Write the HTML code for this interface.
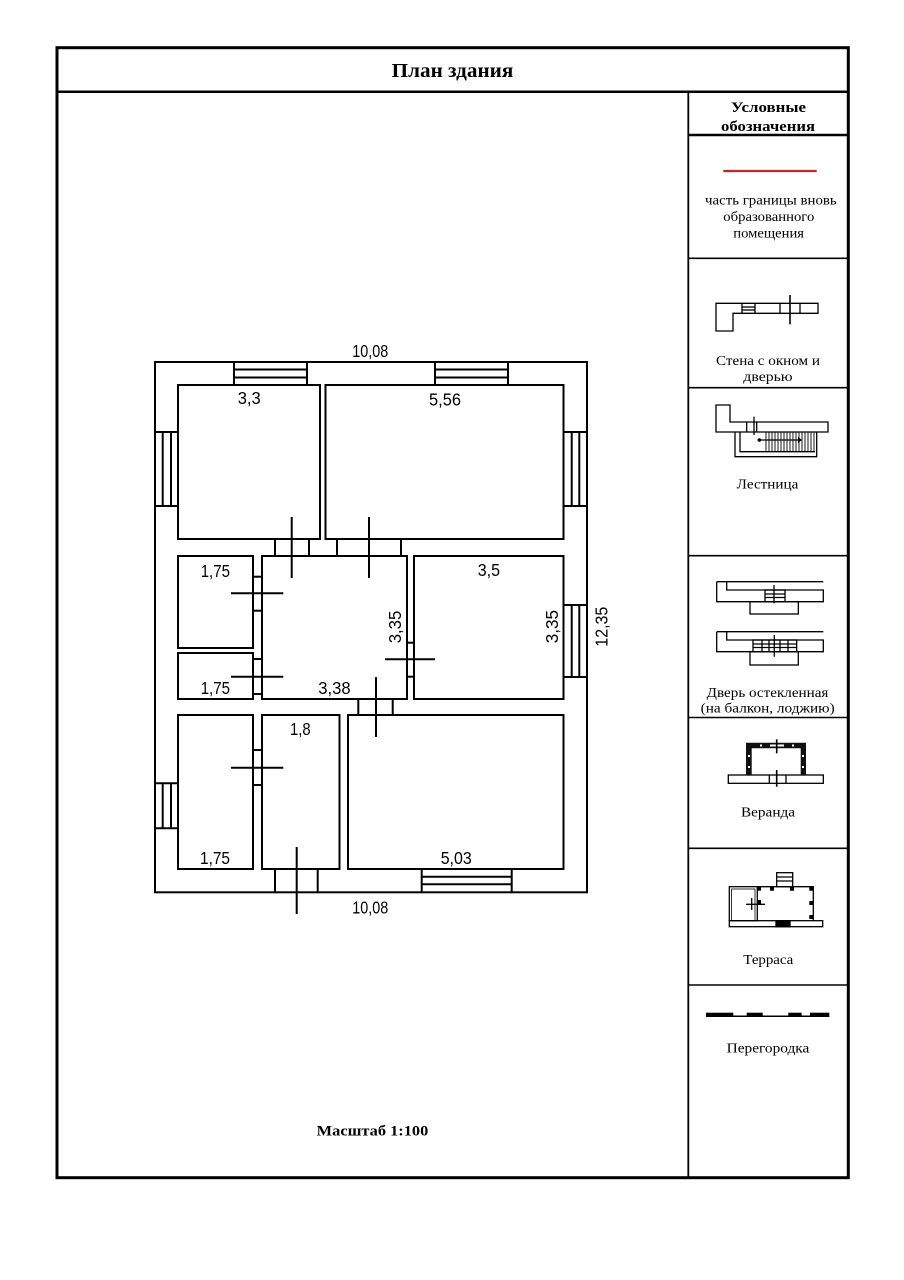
<!DOCTYPE html>
<html><head><meta charset="utf-8"><style>html,body{margin:0;padding:0;background:#fff}svg{display:block}</style></head><body>
<svg width="904" height="1280" viewBox="0 0 904 1280" xmlns="http://www.w3.org/2000/svg">
<rect x="0" y="0" width="904" height="1280" fill="#fff"/>
<!-- frame -->
<rect x="57" y="47.7" width="791.3" height="1130" fill="none" stroke="#000" stroke-width="3"/>
<line x1="57" y1="91.7" x2="848.3" y2="91.7" stroke="#000" stroke-width="2.5"/>
<line x1="688.3" y1="91.7" x2="688.3" y2="1177.7" stroke="#000" stroke-width="1.8"/>
<g stroke="#000" stroke-width="1.6">
<line x1="688.3" y1="135" x2="848.3" y2="135" stroke-width="2.4"/>
<line x1="688.3" y1="258.3" x2="848.3" y2="258.3"/>
<line x1="688.3" y1="387.7" x2="848.3" y2="387.7"/>
<line x1="688.3" y1="555.7" x2="848.3" y2="555.7"/>
<line x1="688.3" y1="717.5" x2="848.3" y2="717.5"/>
<line x1="688.3" y1="848.3" x2="848.3" y2="848.3"/>
<line x1="688.3" y1="985" x2="848.3" y2="985"/>
</g>
<g font-family="'Liberation Serif','Noto Serif CJK SC',serif" fill="#000">
<text x="391.7" y="77" font-size="20" font-weight="bold" textLength="121.6" lengthAdjust="spacingAndGlyphs">План здания</text>
<text x="316.7" y="1135.5" font-size="15" font-weight="bold" textLength="111.6" lengthAdjust="spacingAndGlyphs">Масштаб 1:100</text>
<text x="731" y="112" font-size="15" font-weight="bold" textLength="75" lengthAdjust="spacingAndGlyphs">Условные</text>
<text x="721" y="131" font-size="15" font-weight="bold" textLength="94" lengthAdjust="spacingAndGlyphs">обозначения</text>
<g font-size="13.5">
<text x="705" y="204.5" textLength="131.7" lengthAdjust="spacingAndGlyphs">часть границы вновь</text>
<text x="723.3" y="221" textLength="91" lengthAdjust="spacingAndGlyphs">образованного</text>
<text x="733.3" y="237.5" textLength="70.7" lengthAdjust="spacingAndGlyphs">помещения</text>
<text x="716" y="365" textLength="104" lengthAdjust="spacingAndGlyphs">Стена с окном и</text>
<text x="743.3" y="381" textLength="49.3" lengthAdjust="spacingAndGlyphs">дверью</text>
<text x="736.7" y="488.3" textLength="61.6" lengthAdjust="spacingAndGlyphs">Лестница</text>
<text x="706.7" y="697" textLength="121.7" lengthAdjust="spacingAndGlyphs">Дверь остекленная</text>
<text x="700.7" y="712.7" textLength="134" lengthAdjust="spacingAndGlyphs">(на балкон, лоджию)</text>
<text x="741" y="816.7" textLength="54" lengthAdjust="spacingAndGlyphs">Веранда</text>
<text x="743.3" y="964" textLength="50" lengthAdjust="spacingAndGlyphs">Терраса</text>
<text x="726.7" y="1052.7" textLength="82.6" lengthAdjust="spacingAndGlyphs">Перегородка</text>
</g>
</g>
<!-- red line -->
<line x1="723.3" y1="171" x2="816.7" y2="171" stroke="#d02020" stroke-width="2.2"/>

<!-- legend: wall with window and door -->
<g fill="none" stroke="#000" stroke-width="1.3">
<polygon points="716,303.3 818,303.3 818,313.3 733,313.3 733,331 716,331"/>
<line x1="742" y1="303.3" x2="742" y2="313.3"/>
<line x1="755" y1="303.3" x2="755" y2="313.3"/>
<line x1="742" y1="307" x2="755" y2="307"/>
<line x1="742" y1="310" x2="755" y2="310"/>
<line x1="780" y1="303.3" x2="780" y2="313.3"/>
<line x1="800" y1="303.3" x2="800" y2="313.3"/>
<line x1="790" y1="295" x2="790" y2="324.3" stroke-width="1.6"/>
</g>
<!-- legend: stairs -->
<g fill="none" stroke="#000" stroke-width="1.3">
<polygon points="716,405 730,405 730,422 828,422 828,432 716,432"/>
<line x1="746.7" y1="422" x2="746.7" y2="432"/>
<line x1="756.7" y1="422" x2="756.7" y2="432"/>
<line x1="754" y1="416.7" x2="754" y2="435"/>
<polyline points="735,432 735,456.7 816.7,456.7 816.7,432"/>
<polyline points="740,432 740,451.7 815,451.7"/>
</g>
<g stroke="#000" stroke-width="0.9">
<line x1="766" y1="432" x2="766" y2="451.7"/><line x1="769" y1="432" x2="769" y2="451.7"/><line x1="772" y1="432" x2="772" y2="451.7"/><line x1="775" y1="432" x2="775" y2="451.7"/><line x1="778" y1="432" x2="778" y2="451.7"/><line x1="781" y1="432" x2="781" y2="451.7"/><line x1="784" y1="432" x2="784" y2="451.7"/><line x1="787" y1="432" x2="787" y2="451.7"/><line x1="790" y1="432" x2="790" y2="451.7"/><line x1="793" y1="432" x2="793" y2="451.7"/><line x1="796" y1="432" x2="796" y2="451.7"/><line x1="799" y1="432" x2="799" y2="451.7"/><line x1="802" y1="432" x2="802" y2="451.7"/><line x1="805" y1="432" x2="805" y2="451.7"/><line x1="808" y1="432" x2="808" y2="451.7"/><line x1="811" y1="432" x2="811" y2="451.7"/><line x1="814" y1="432" x2="814" y2="451.7"/>
<line x1="759.3" y1="440" x2="798" y2="440" stroke-width="1.3"/>
</g>
<circle cx="759.3" cy="440" r="1.8" fill="#000"/>
<polygon points="798,437 802,440 798,443" fill="#000"/>
<!-- legend: glazed doors -->
<g fill="none" stroke="#000" stroke-width="1.3">
<line x1="716.7" y1="581.7" x2="823.3" y2="581.7"/>
<polyline points="716.7,581.7 716.7,601.7 823.3,601.7 823.3,590 726.7,590 726.7,581.7"/>
<rect x="750" y="601.7" width="48.3" height="12.3"/>
<rect x="765" y="590" width="20" height="11.7"/>
<line x1="765" y1="594" x2="785" y2="594"/><line x1="765" y1="597.5" x2="785" y2="597.5"/>
<line x1="774" y1="585" x2="774" y2="603.3"/>
<line x1="716.7" y1="631.7" x2="823.3" y2="631.7"/>
<polyline points="716.7,631.7 716.7,651.7 823.3,651.7 823.3,640 726.7,640 726.7,631.7"/>
<rect x="750" y="651.7" width="48.3" height="13.3"/>
<rect x="753" y="640" width="43.7" height="11.7"/>
<line x1="753" y1="644" x2="796.7" y2="644"/><line x1="753" y1="647.5" x2="796.7" y2="647.5"/>
<line x1="762" y1="640" x2="762" y2="651.7"/><line x1="769" y1="640" x2="769" y2="651.7"/><line x1="780" y1="640" x2="780" y2="651.7"/><line x1="788" y1="640" x2="788" y2="651.7"/>
<line x1="774.3" y1="635" x2="774.3" y2="656.7"/>
</g>
<!-- legend: veranda -->
<g fill="none" stroke="#000" stroke-width="1.3">
<rect x="728.3" y="775" width="95" height="8.3"/>
<line x1="769.3" y1="775" x2="769.3" y2="783.3"/>
<line x1="786" y1="775" x2="786" y2="783.3"/>
<line x1="776.7" y1="770" x2="776.7" y2="786.7" stroke-width="1.6"/>
</g>
<path d="M746,775 V742.7 H806 V775 H800.7 V748.3 H751.7 V775 Z" fill="#111"/>
<g fill="#fff"><rect x="748" y="755" width="2" height="2"/><rect x="748" y="766" width="2" height="2"/><rect x="802" y="755" width="2" height="2"/><rect x="802" y="766" width="2" height="2"/><rect x="760" y="744.5" width="2" height="2"/><rect x="792" y="744.5" width="2" height="2"/><rect x="770" y="744.5" width="14" height="2"/></g>
<line x1="776.7" y1="739.3" x2="776.7" y2="753.3" stroke="#000" stroke-width="1.6"/>
<!-- legend: terrace -->
<g fill="none" stroke="#000" stroke-width="1.3">
<rect x="776.7" y="872.7" width="16" height="14"/>
<line x1="776.7" y1="877" x2="792.7" y2="877"/><line x1="776.7" y1="881" x2="792.7" y2="881"/>
<rect x="729.3" y="886.7" width="28" height="34"/>
<rect x="731.5" y="889" width="23.5" height="31.7" stroke-width="0.8"/>
<polyline points="757.3,886.7 813.3,886.7 813.3,920.7"/>
<rect x="729.3" y="920.7" width="93.4" height="6"/>
<rect x="776" y="920.7" width="14" height="6" fill="#000"/>
<line x1="746" y1="904.3" x2="765" y2="904.3"/>
<line x1="751.7" y1="898" x2="751.7" y2="910"/>
</g>
<g fill="#000"><rect x="757" y="886.7" width="4" height="4"/><rect x="770" y="886.7" width="4" height="4"/><rect x="790" y="886.7" width="4" height="4"/><rect x="809.3" y="886.7" width="4" height="4"/><rect x="809.3" y="901" width="4" height="4"/><rect x="809.3" y="915" width="4" height="4"/><rect x="757" y="900" width="4" height="4"/></g>
<!-- legend: partition -->
<line x1="706" y1="1016.3" x2="829.3" y2="1016.3" stroke="#000" stroke-width="1.5"/>
<g fill="#000"><rect x="706" y="1012.7" width="27.3" height="4"/><rect x="746.7" y="1012.7" width="16" height="4"/><rect x="788.3" y="1012.7" width="13.3" height="4"/><rect x="810" y="1012.7" width="19.3" height="4"/></g>

<!-- floor plan -->
<g fill="none" stroke="#000" stroke-width="2">
<rect x="155" y="362" width="432" height="530.3"/>
<rect x="178" y="385" width="142" height="154"/>
<rect x="325.5" y="385" width="238" height="154"/>
<rect x="178" y="556" width="75" height="92"/>
<rect x="178" y="653" width="75" height="46"/>
<rect x="262" y="556" width="145" height="143"/>
<rect x="414" y="556" width="149.5" height="143"/>
<rect x="178" y="715" width="75" height="154"/>
<rect x="262" y="715" width="77.5" height="154"/>
<rect x="348" y="715" width="215.5" height="154"/>
<!-- windows -->
<line x1="234" y1="362" x2="234" y2="385"/><line x1="307" y1="362" x2="307" y2="385"/>
<line x1="234" y1="369.5" x2="307" y2="369.5"/><line x1="234" y1="377.5" x2="307" y2="377.5"/>
<line x1="435" y1="362" x2="435" y2="385"/><line x1="508" y1="362" x2="508" y2="385"/>
<line x1="435" y1="369.5" x2="508" y2="369.5"/><line x1="435" y1="377.5" x2="508" y2="377.5"/>
<line x1="155" y1="432" x2="178" y2="432"/><line x1="155" y1="506" x2="178" y2="506"/>
<line x1="162.7" y1="432" x2="162.7" y2="506"/><line x1="171" y1="432" x2="171" y2="506"/>
<line x1="563.5" y1="432" x2="587" y2="432"/><line x1="563.5" y1="506" x2="587" y2="506"/>
<line x1="571.7" y1="432" x2="571.7" y2="506"/><line x1="579.3" y1="432" x2="579.3" y2="506"/>
<line x1="563.5" y1="605" x2="587" y2="605"/><line x1="563.5" y1="677" x2="587" y2="677"/>
<line x1="571.7" y1="605" x2="571.7" y2="677"/><line x1="579.3" y1="605" x2="579.3" y2="677"/>
<line x1="155" y1="783.3" x2="178" y2="783.3"/><line x1="155" y1="828.3" x2="178" y2="828.3"/>
<line x1="162.7" y1="783.3" x2="162.7" y2="828.3"/><line x1="171" y1="783.3" x2="171" y2="828.3"/>
<line x1="421.7" y1="869" x2="421.7" y2="892.3"/><line x1="511.7" y1="869" x2="511.7" y2="892.3"/>
<line x1="421.7" y1="876.7" x2="511.7" y2="876.7"/><line x1="421.7" y1="884.3" x2="511.7" y2="884.3"/>
<!-- door frames -->
<line x1="275" y1="539" x2="275" y2="556"/><line x1="309" y1="539" x2="309" y2="556"/>
<line x1="337" y1="539" x2="337" y2="556"/><line x1="401" y1="539" x2="401" y2="556"/>
<line x1="253" y1="576.7" x2="262" y2="576.7"/><line x1="253" y1="610.7" x2="262" y2="610.7"/>
<line x1="253" y1="659" x2="262" y2="659"/><line x1="253" y1="694" x2="262" y2="694"/>
<line x1="407" y1="642.7" x2="414" y2="642.7"/><line x1="407" y1="676.7" x2="414" y2="676.7"/>
<line x1="358.3" y1="699" x2="358.3" y2="715"/><line x1="392.7" y1="699" x2="392.7" y2="715"/>
<line x1="253" y1="750" x2="262" y2="750"/><line x1="253" y1="785" x2="262" y2="785"/>
<line x1="275" y1="869" x2="275" y2="892.3"/><line x1="317.7" y1="869" x2="317.7" y2="892.3"/>
<!-- door markers -->
<line x1="291.7" y1="517" x2="291.7" y2="578"/>
<line x1="369" y1="517" x2="369" y2="578"/>
<line x1="231" y1="593.3" x2="283.3" y2="593.3"/>
<line x1="231" y1="676.7" x2="283.3" y2="676.7"/>
<line x1="385" y1="659.3" x2="435" y2="659.3"/>
<line x1="376" y1="677" x2="376" y2="737"/>
<line x1="231" y1="767.7" x2="283.3" y2="767.7"/>
<line x1="296.7" y1="847" x2="296.7" y2="914"/>
</g>
<g font-family="'Liberation Sans',sans-serif" font-size="17.5" fill="#000">
<text x="352.3" y="357" textLength="36" lengthAdjust="spacingAndGlyphs">10,08</text>
<text x="237.7" y="404" textLength="23" lengthAdjust="spacingAndGlyphs">3,3</text>
<text x="429" y="405.5" textLength="32" lengthAdjust="spacingAndGlyphs">5,56</text>
<text x="200.7" y="577" textLength="29.3" lengthAdjust="spacingAndGlyphs">1,75</text>
<text x="200.7" y="694" textLength="29.3" lengthAdjust="spacingAndGlyphs">1,75</text>
<text x="318.3" y="694" textLength="32.4" lengthAdjust="spacingAndGlyphs">3,38</text>
<text x="477.7" y="576" textLength="22.3" lengthAdjust="spacingAndGlyphs">3,5</text>
<text x="290" y="735" textLength="20.7" lengthAdjust="spacingAndGlyphs">1,8</text>
<text x="200" y="864" textLength="30" lengthAdjust="spacingAndGlyphs">1,75</text>
<text x="440.7" y="864" textLength="31" lengthAdjust="spacingAndGlyphs">5,03</text>
<text x="352.3" y="913.3" textLength="36" lengthAdjust="spacingAndGlyphs">10,08</text>
<g transform="translate(401,627) rotate(-90)"><text x="-16.3" y="0" textLength="32.6" lengthAdjust="spacingAndGlyphs">3,35</text></g>
<g transform="translate(558,626.7) rotate(-90)"><text x="-16.6" y="0" textLength="33.3" lengthAdjust="spacingAndGlyphs">3,35</text></g>
<g transform="translate(607.5,626.7) rotate(-90)"><text x="-20" y="0" textLength="40" lengthAdjust="spacingAndGlyphs">12,35</text></g>
</g>
</svg>
</body></html>
